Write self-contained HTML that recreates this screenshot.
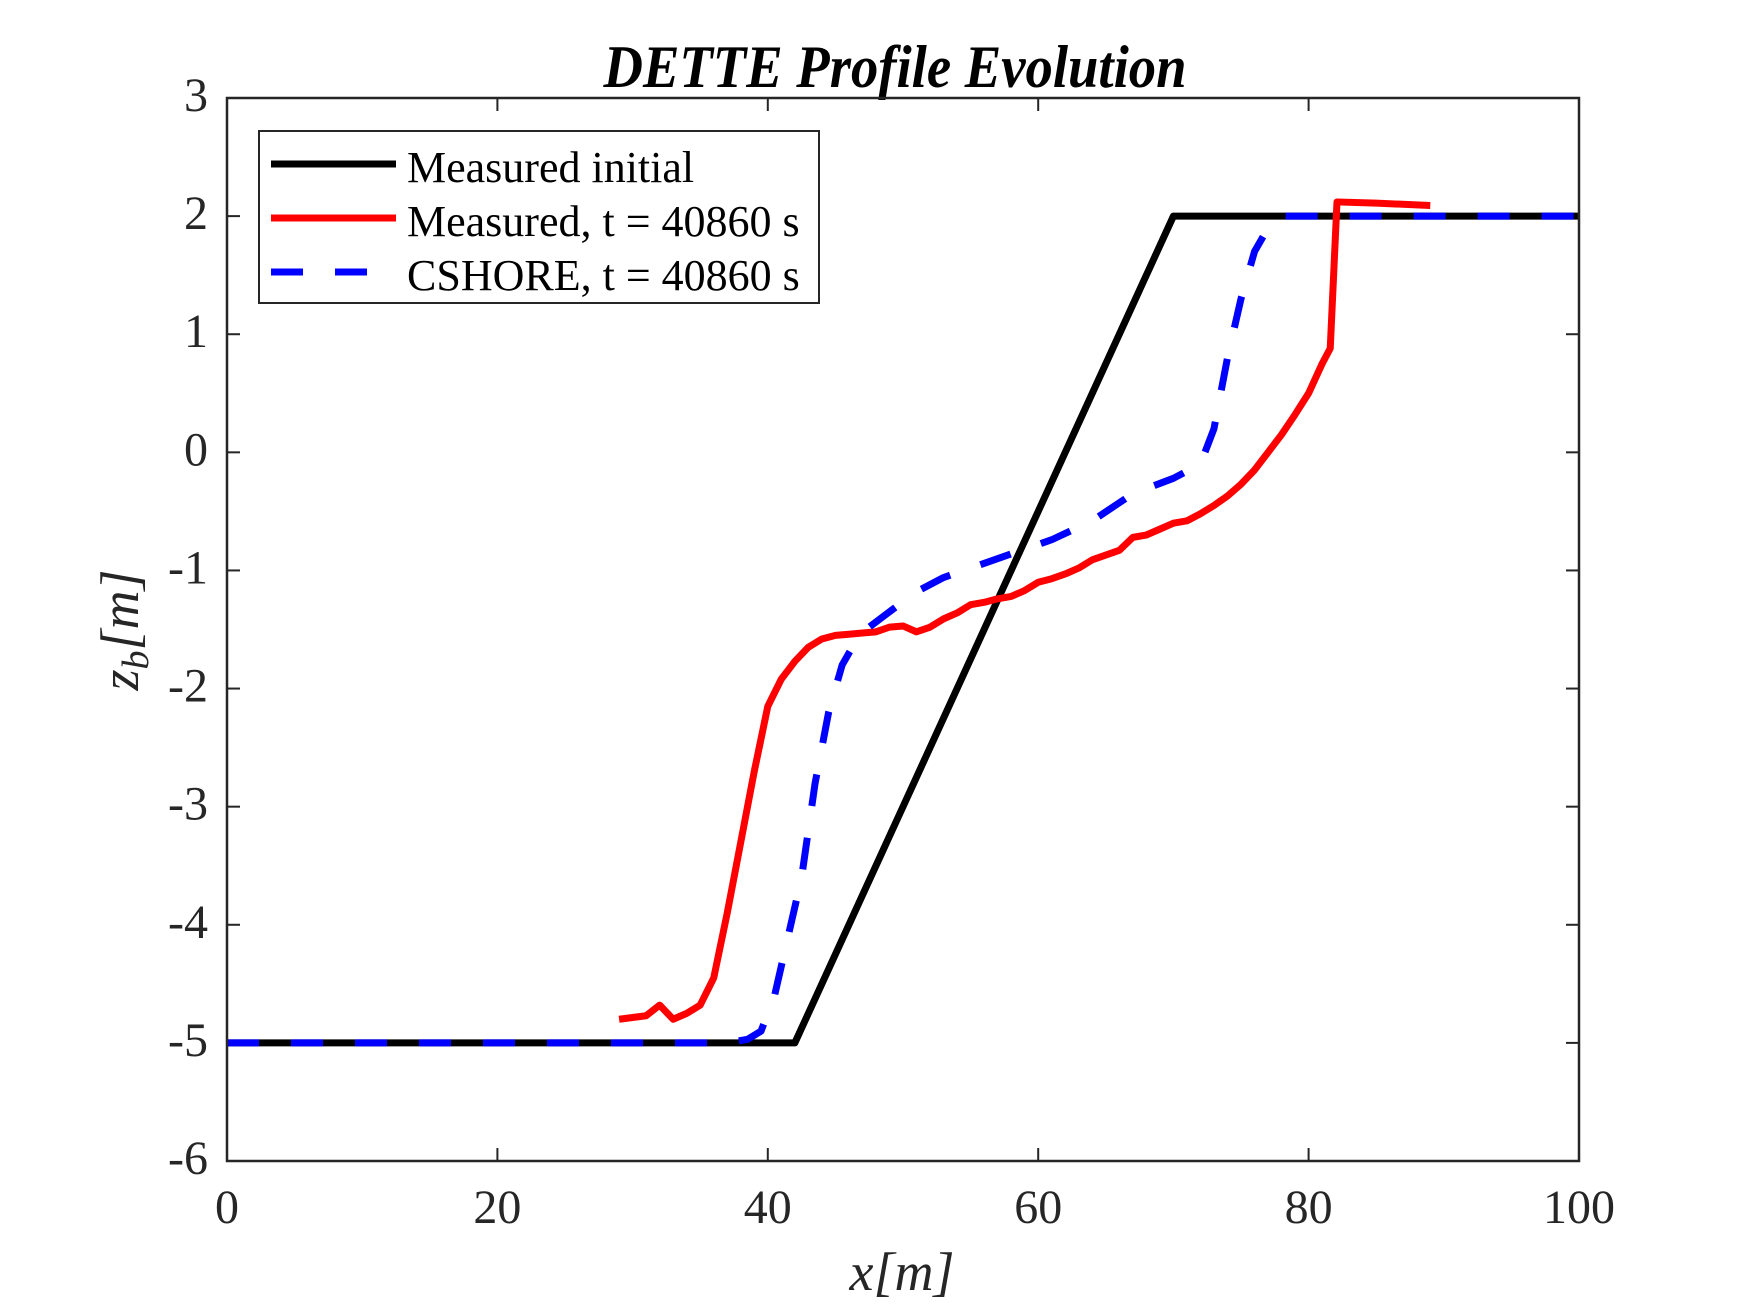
<!DOCTYPE html>
<html><head><meta charset="utf-8"><style>
html,body{margin:0;padding:0;background:#fff}
svg{display:block}
text{font-family:"Liberation Serif",serif;fill:#262626}
</style></head><body>
<svg id="chart" width="1747" height="1311" viewBox="0 0 1747 1311" xmlns="http://www.w3.org/2000/svg">
<rect x="0" y="0" width="1747" height="1311" fill="#fff"/>
<text x="895" y="87" text-anchor="middle" font-size="60" font-weight="bold" font-style="italic" style="fill:#000" textLength="583" lengthAdjust="spacingAndGlyphs">DETTE Profile Evolution</text>
<g id="ticks"></g>
<g id="series"></g>
<rect x="227" y="98" width="1352" height="1063" fill="none" stroke="#262626" stroke-width="2.5"/>
<text x="902" y="1290" text-anchor="middle" font-size="54" font-style="italic">x[m]</text>
<text transform="translate(138,630) rotate(-90)" text-anchor="middle" font-size="54" font-style="italic">z<tspan font-size="38" dy="10">b</tspan><tspan dy="-10">[m]</tspan></text>
<g>
<rect x="259" y="131" width="560" height="172" fill="#fff" stroke="#262626" stroke-width="2"/>
<line x1="271" y1="164" x2="396" y2="164" stroke="#000" stroke-width="7"/>
<text x="407" y="182" font-size="44" style="fill:#000">Measured initial</text>
<line x1="271" y1="218" x2="396" y2="218" stroke="#f00" stroke-width="7"/>
<text x="407" y="236" font-size="44" style="fill:#000">Measured, t = 40860 s</text>
<line x1="271" y1="272" x2="396" y2="272" stroke="#00f" stroke-width="7" stroke-dasharray="32,32"/>
<text x="407" y="290" font-size="44" style="fill:#000">CSHORE, t = 40860 s</text>
</g>
</svg>
<script>
const xTicks=[0,20,40,60,80,100];
const yTicks=[3,2,1,0,-1,-2,-3,-4,-5,-6];
const initX=[0,42,70,100];
const initZ=[-5,-5,2,2];
const measX=[29,31,32,33,34,35,36,37,38,39,40,41,42,43,44,45,46,47,48,49,50,51,52,53,54,55,56,57,58,59,60,61,62,63,64,65,66,67,68,69,70,71,72,73,74,75,76,77,78,79,80,81,81.6,82.1,85,89];
const measZ=[-4.8,-4.77,-4.68,-4.8,-4.75,-4.68,-4.45,-3.9,-3.3,-2.7,-2.15,-1.92,-1.77,-1.65,-1.58,-1.55,-1.54,-1.53,-1.52,-1.48,-1.47,-1.52,-1.48,-1.41,-1.36,-1.29,-1.27,-1.24,-1.22,-1.17,-1.1,-1.07,-1.03,-0.98,-0.91,-0.87,-0.83,-0.72,-0.7,-0.65,-0.6,-0.58,-0.52,-0.45,-0.37,-0.27,-0.15,0,0.15,0.32,0.5,0.75,0.88,2.12,2.11,2.09];
const csX=[0,37,38.5,39.5,40.5,41.5,42.5,43.5,44.5,45.5,46.5,47.5,49,51,53,55,58,61,64,67,70,72,73,74,75,76,77,78,100];
const csZ=[-5,-5,-4.97,-4.9,-4.6,-4.1,-3.6,-2.8,-2.2,-1.8,-1.6,-1.48,-1.35,-1.18,-1.06,-0.98,-0.86,-0.74,-0.58,-0.35,-0.22,-0.1,0.2,0.8,1.3,1.7,1.9,2.0,2.0];

const X0=227,X1=1579,Y0=98,Y1=1161;
const sx=v=>X0+(v-0)/(100-0)*(X1-X0);
const sy=v=>Y0+(3-v)/(3-(-6))*(Y1-Y0);
const NS="http://www.w3.org/2000/svg";
const tg=document.getElementById('ticks');
xTicks.forEach(t=>{
  const x=sx(t);
  [[Y1,Y1-13],[Y0,Y0+13]].forEach(p=>{
    const l=document.createElementNS(NS,'line');
    l.setAttribute('x1',x);l.setAttribute('x2',x);l.setAttribute('y1',p[0]);l.setAttribute('y2',p[1]);
    l.setAttribute('stroke','#262626');l.setAttribute('stroke-width','2');
    
    
    tg.appendChild(l);
  });
  const tx=document.createElementNS(NS,'text');
  tx.setAttribute('x',x);tx.setAttribute('y',Y1+62);tx.setAttribute('text-anchor','middle');tx.setAttribute('font-size','48');
  tx.textContent=t;
  
  
  tg.appendChild(tx);
});
yTicks.forEach(t=>{
  const y=sy(t);
  [[X0,X0+13],[X1,X1-13]].forEach(p=>{
    const l=document.createElementNS(NS,'line');
    l.setAttribute('x1',p[0]);l.setAttribute('x2',p[1]);l.setAttribute('y1',y);l.setAttribute('y2',y);
    l.setAttribute('stroke','#262626');l.setAttribute('stroke-width','2');
    
    
    tg.appendChild(l);
  });
  const tx=document.createElementNS(NS,'text');
  tx.setAttribute('x',X0-19);tx.setAttribute('y',y+13);tx.setAttribute('text-anchor','end');tx.setAttribute('font-size','48');
  tx.textContent=t;
  
  
  tg.appendChild(tx);
});
const sg=document.getElementById('series');
function line(xs,zs,color,dash,name){
  const p=document.createElementNS(NS,'polyline');
  p.setAttribute('points',xs.map((x,i)=>sx(x)+','+sy(zs[i])).join(' '));
  p.setAttribute('fill','none');p.setAttribute('stroke',color);p.setAttribute('stroke-width','7');
  p.setAttribute('stroke-linejoin','round');
  if(dash)p.setAttribute('stroke-dasharray',dash);
  
  
  sg.appendChild(p);
}
line(initX,initZ,'#000',null,'measured-initial-line');
line(measX,measZ,'#f00',null,'measured-final-line');
line(csX,csZ,'#00f','32,32','cshore-line');
</script>
</body></html>
